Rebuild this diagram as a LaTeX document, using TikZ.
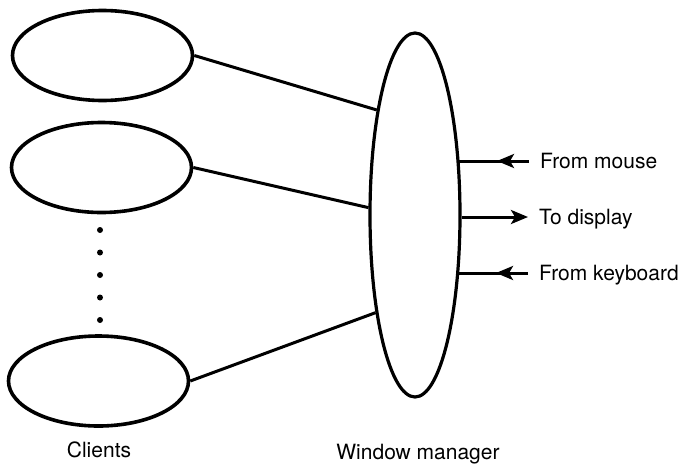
\documentclass[tikz,border=0pt]{standalone}
\usepackage{fontspec}
\setmainfont{TeX Gyre Heros}
\usetikzlibrary{shapes.geometric, positioning, arrows.meta, decorations.markings}

\begin{document}
\begin{tikzpicture}[
  x=1pt, y=-1pt,
  font=\fontsize{21}{25}\selectfont,
  client/.style={
    draw, ellipse, line width=3.6pt, inner sep=0pt,
    minimum width=180pt, minimum height=90pt
  },
  link/.style={line width=3pt},
  io/.style={anchor=west, text depth=0pt, inner sep=0pt},
  inlink/.style={
    link, postaction={decorate},
    decoration={markings, mark=at position 32pt with
      {\arrow{Stealth[length=17pt, width=14pt, inset=4pt]}}}
  }
]
  \useasboundingbox (0,0) rectangle (680,469);

  % Clients
  \node[client] (client1) at (102.5,55.5) {};
  \node[client] (client2) at (101.5,167.5) {};
  \node[client] (client3) at (98.5,381) {};

  % dots between the clients
  \foreach \y in {230,252.5,...,320}
    \fill (100,\y) circle (3pt);

  % Window manager
  \node[draw, ellipse, line width=3.2pt, inner sep=0pt,
        minimum width=90pt, minimum height=364pt] (wm) at (415,215) {};

  % --- CONNECTIONS ---
  \draw[link] (client1.east) -- (wm.110);
  \draw[link] (client2.east) -- (wm.171);
  \draw[link] (client3.east) -- (wm.248);

  % --- INPUT / OUTPUT ---
  \coordinate (mouse-end) at (529,161);
  \coordinate (display-end) at (528,217);
  \coordinate (keyboard-end) at (528,273);

  \node[io, right=11pt of mouse-end] (mouse) {From mouse};
  \node[io, right=11pt of display-end] (display) {To display};
  \node[io, right=11pt of keyboard-end] (keyboard) {From keyboard};

  \draw[inlink] (mouse-end) -- (mouse-end -| wm.51);
  \draw[link, -{Stealth[length=17pt, width=14pt, inset=4pt]}]
    (display-end -| wm.357) -- (display-end);
  \draw[inlink] (keyboard-end) -- (keyboard-end -| wm.307);

  % Labels
  \node[anchor=base] (clientstext) at (99,457) {Clients};
  \node[anchor=base] (wmtext) at (418,459) {Window manager};

\end{tikzpicture}
\end{document}
